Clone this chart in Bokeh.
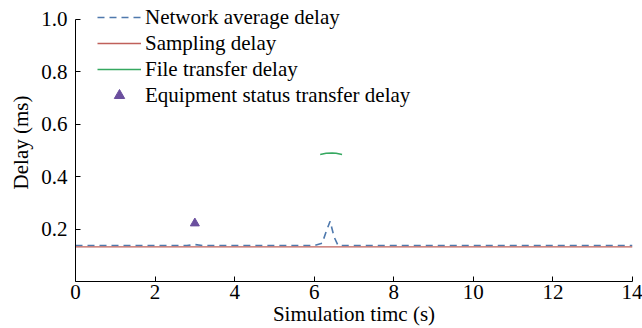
from bokeh.plotting import figure
from bokeh.models import Legend, LegendItem, FixedTicker, Range1d, PrintfTickFormatter
from bokeh.embed import file_html
from bokeh.resources import INLINE

# Data
net_t = [0, 2.8, 3.0, 3.2, 6.0, 6.2, 6.3, 6.4, 6.5, 6.6, 14]
net_v = [0.137, 0.137, 0.141, 0.137, 0.137, 0.146, 0.19, 0.23, 0.17, 0.137, 0.137]
samp_t = [0, 14]
samp_v = [0.132, 0.132]
file_t = [6.15, 6.3, 6.45, 6.55, 6.7]
file_v = [0.484, 0.489, 0.490, 0.489, 0.484]
equip_t = [3.0]
equip_v = [0.222]
x_ticks = [0, 2, 4, 6, 8, 10, 12, 14]
y_ticks = [0.2, 0.4, 0.6, 0.8, 1.0]

FONT = "Liberation Serif"

p = figure(width=642, height=328, output_backend="svg", toolbar_location=None,
           x_range=Range1d(0, 14), y_range=Range1d(0, 1.06))
p.min_border_left = 75
p.min_border_top = 3
p.min_border_bottom = 45
p.min_border_right = 10
p.outline_line_color = None
p.grid.visible = False
p.background_fill_color = "white"
p.border_fill_color = "white"

r_net = p.line(net_t, net_v, line_color="#4f79ad", line_width=1.6, line_dash="7 5")
r_samp = p.line(samp_t, samp_v, line_color="#c0605a", line_width=1.3)
r_file = p.line(file_t, file_v, line_color="#35a860", line_width=1.6)
r_eq = p.scatter(equip_t, equip_v, marker="triangle", size=9, fill_color="#6b4f9e",
                 line_color="#6b4f9e")

for ax in (p.xaxis[0], p.yaxis[0]):
    ax.major_tick_in = 5
    ax.major_tick_out = 0
    ax.minor_tick_line_color = None
    ax.axis_line_color = "black"
    ax.major_tick_line_color = "black"
    ax.major_label_text_font = FONT
    ax.major_label_text_font_size = "21px"
    ax.major_label_text_color = "black"
    ax.axis_label_text_font = FONT
    ax.axis_label_text_font_size = "21px"
    ax.axis_label_text_font_style = "normal"
    ax.axis_label_text_color = "black"

p.yaxis.bounds = (0, 1.0)
p.xaxis.ticker = FixedTicker(ticks=x_ticks)
p.yaxis.ticker = FixedTicker(ticks=y_ticks)
p.yaxis.formatter = PrintfTickFormatter(format="%.1f")
p.xaxis.axis_label = "Simulation timc (s)"
p.yaxis.axis_label = "Delay (ms)"
p.xaxis.major_label_standoff = 3
p.xaxis.axis_label_standoff = 0
p.yaxis.major_label_standoff = 8
p.yaxis.axis_label_standoff = 5

legend = Legend(items=[
    LegendItem(label="Network average delay", renderers=[r_net]),
    LegendItem(label="Sampling delay", renderers=[r_samp]),
    LegendItem(label="File transfer delay", renderers=[r_file]),
    LegendItem(label="Equipment status transfer delay", renderers=[r_eq]),
], location=(22, 173))
legend.border_line_color = None
legend.background_fill_alpha = 0
legend.padding = 0
legend.margin = 0
legend.spacing = 0
legend.glyph_width = 44
legend.glyph_height = 26
legend.label_height = 26
legend.label_standoff = 4
legend.label_text_font = FONT
legend.label_text_font_size = "21px"
legend.label_text_color = "black"
p.add_layout(legend, "center")

open("out.html", "w").write(file_html(p, INLINE))
